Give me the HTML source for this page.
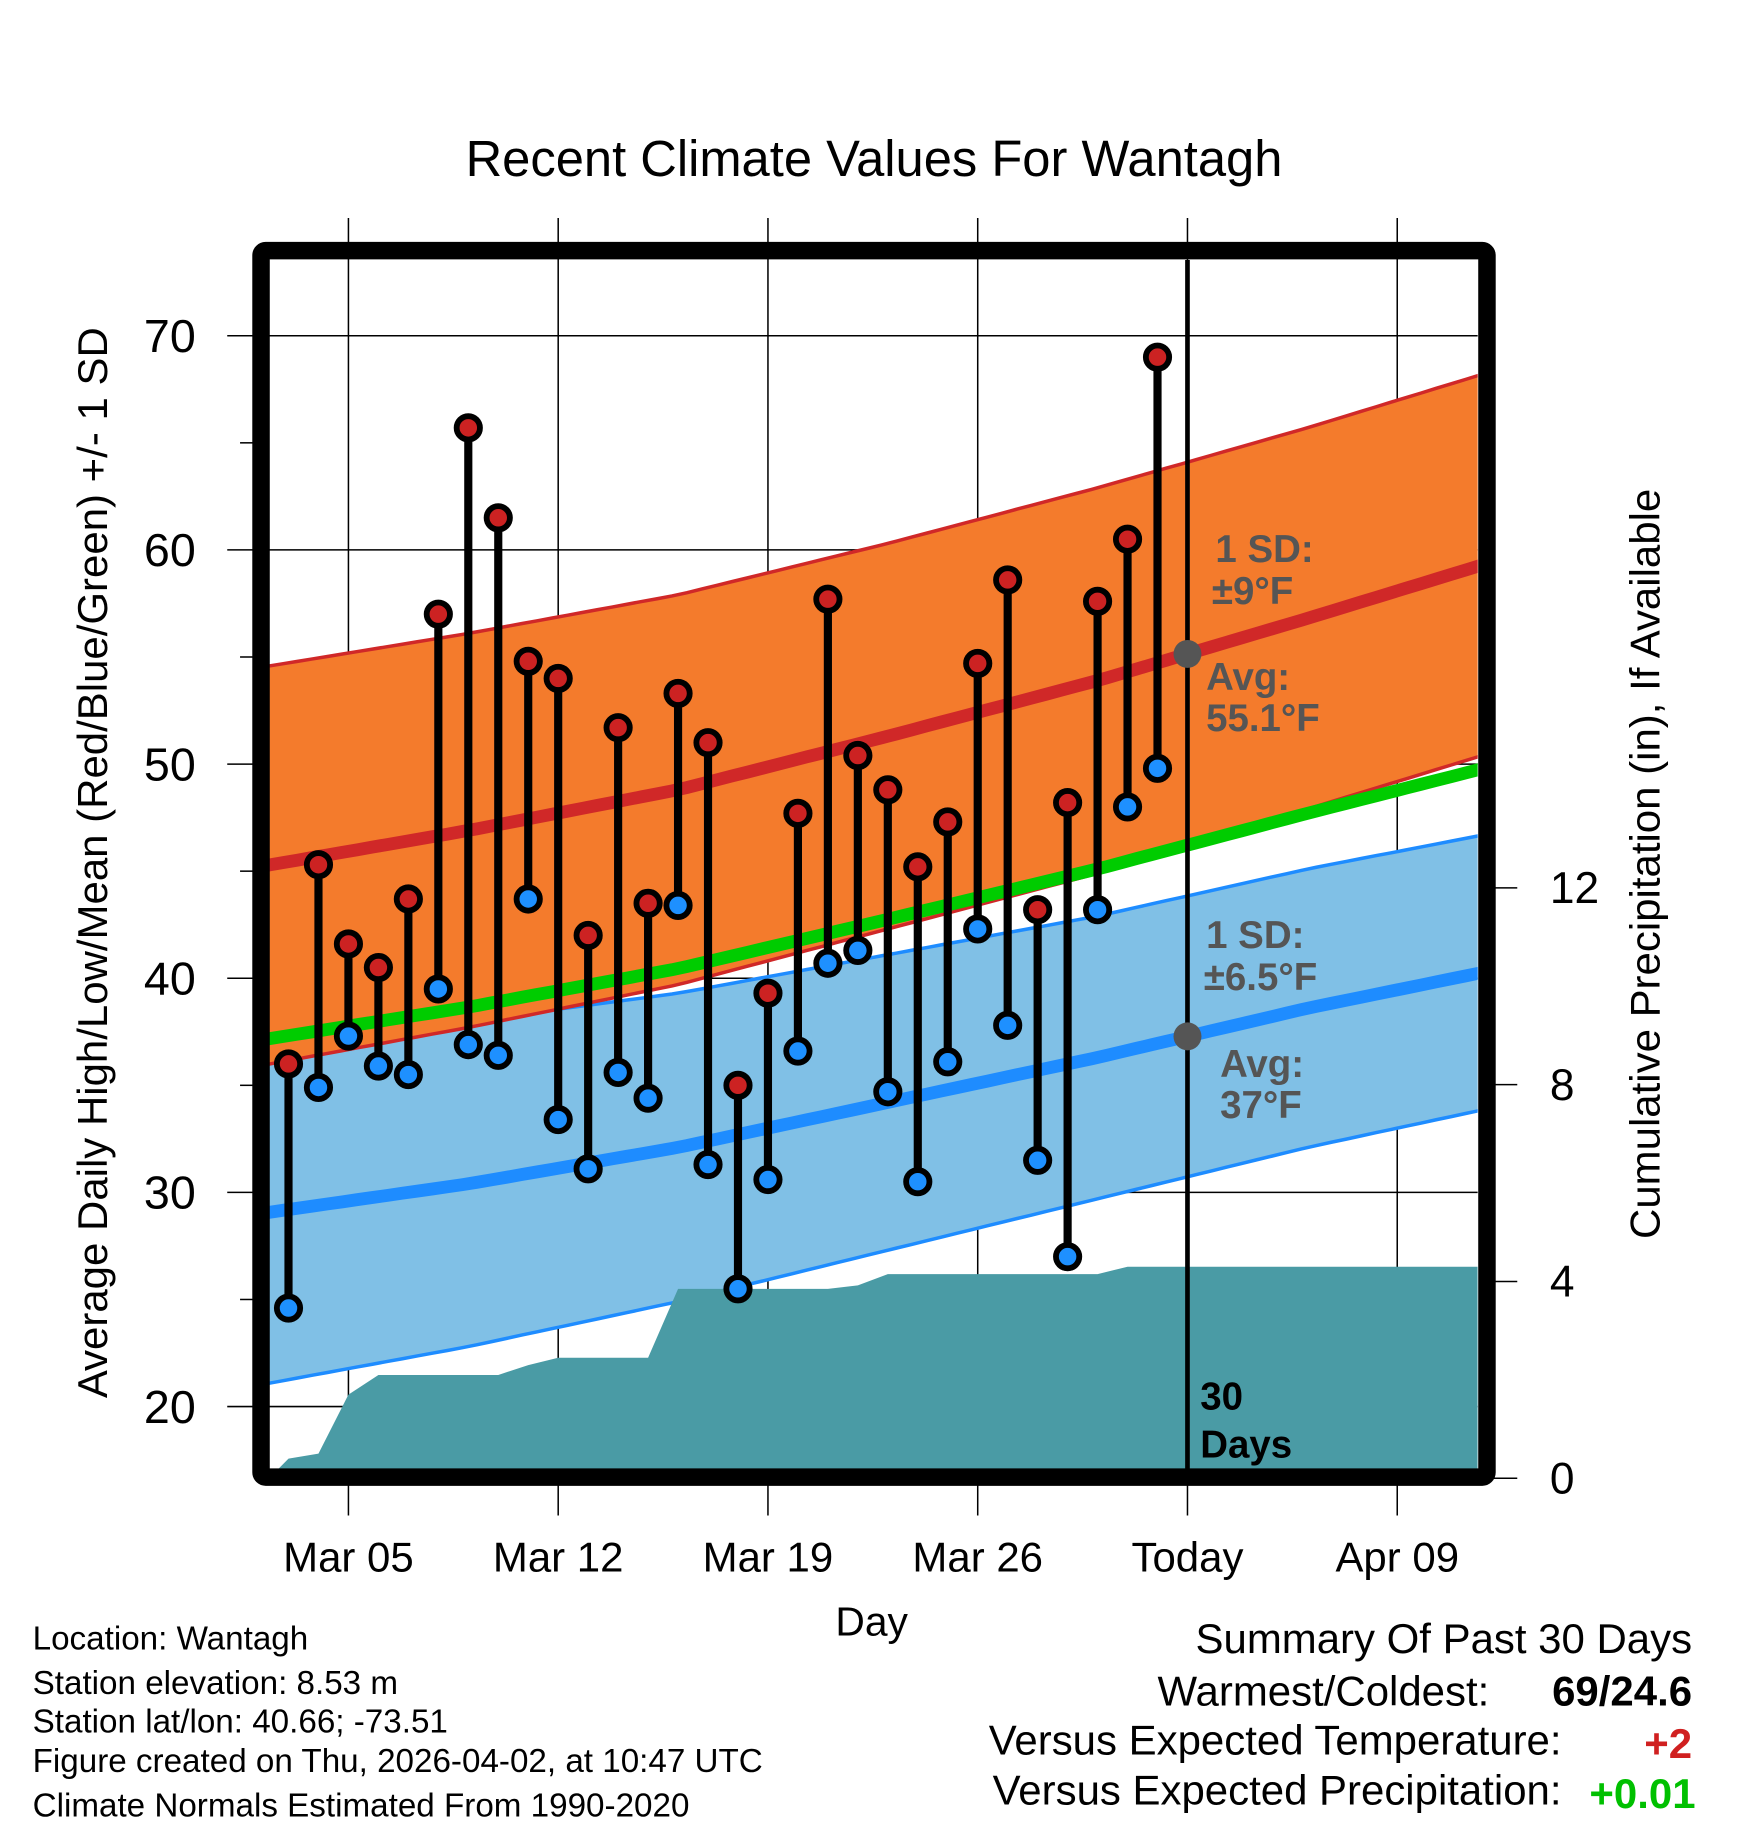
<!DOCTYPE html>
<html><head><meta charset="utf-8"><style>
html,body{margin:0;padding:0;background:#fff}
svg{display:block;font-family:"Liberation Sans",Arial,sans-serif}
</style></head><body>
<svg id="chart" width="1748" height="1828" viewBox="0 0 1500 1568" preserveAspectRatio="none" xmlns="http://www.w3.org/2000/svg">
<defs><clipPath id="plotclip"><rect x="231" y="223" width="1037" height="1037"/></clipPath></defs>
<text x="750" y="151" font-size="43.5" text-anchor="middle">Recent Climate Values For Wantagh</text>
<g id="grid"></g>
<g id="plot" clip-path="url(#plotclip)"></g>
<g id="marks"></g>
<g id="axes"></g>
<rect x="224" y="215" width="1052" height="1052" fill="none" stroke="#000" stroke-width="15" rx="4"/>
<g font-weight="bold" font-size="33" fill="#555">
<text x="1043" y="482">1 SD:</text>
<text x="1040" y="518">±9°F</text>
<text x="1035" y="592">Avg:</text>
<text x="1035" y="627">55.1°F</text>
<text x="1035" y="813">1 SD:</text>
<text x="1033" y="849">±6.5°F</text>
<text x="1047" y="924">Avg:</text>
<text x="1047" y="959">37°F</text>
<text x="1030" y="1209" fill="#000">30</text>
<text x="1030" y="1250" fill="#000">Days</text>
</g>
<text transform="translate(92,740) rotate(-90)" font-size="36" text-anchor="middle">Average Daily High/Low/Mean (Red/Blue/Green) +/- 1 SD</text>
<text transform="translate(1424,741) rotate(-90)" font-size="36" text-anchor="middle">Cumulative Precipitation (in), If Available</text>
<text x="748" y="1403" font-size="35" text-anchor="middle">Day</text>
<g font-size="28.5">
<text x="28" y="1415">Location: Wantagh</text>
<text x="28" y="1453">Station elevation: 8.53 m</text>
<text x="28" y="1486">Station lat/lon: 40.66; -73.51</text>
<text x="28" y="1520">Figure created on Thu, 2026-04-02, at 10:47 UTC</text>
<text x="28" y="1558">Climate Normals Estimated From 1990-2020</text>
</g>
<g font-size="36">
<text x="1452" y="1418" text-anchor="end">Summary Of Past 30 Days</text>
<text x="1278" y="1463" text-anchor="end">Warmest/Coldest:</text>
<text x="1452" y="1463" text-anchor="end" font-weight="bold">69/24.6</text>
<text x="1340" y="1505" text-anchor="end">Versus Expected Temperature:</text>
<text x="1452" y="1508" text-anchor="end" font-weight="bold" fill="#d02020">+2</text>
<text x="1340" y="1548" text-anchor="end">Versus Expected Precipitation:</text>
<text x="1455" y="1551" text-anchor="end" font-weight="bold" fill="#00c000">+0.01</text>
</g>
</svg>
<script>
// Observed data (day 0 = Mar 03)
const highs=[36.0,45.3,41.6,40.5,43.7,57.0,65.7,61.5,54.8,54.0,42.0,51.7,43.5,53.3,51.0,35.0,39.3,47.7,57.7,50.4,48.8,45.2,47.3,54.7,58.6,43.2,48.2,57.6,60.5,69.0];
const lows=[24.6,34.9,37.3,35.9,35.5,39.5,36.9,36.4,43.7,33.4,31.1,35.6,34.4,43.4,31.3,25.5,30.6,36.6,40.7,41.3,34.7,30.5,36.1,42.3,37.8,31.5,27.0,43.2,48.0,49.8];
const precip=[0.4,0.5,1.7,2.1,2.1,2.1,2.1,2.1,2.3,2.45,2.45,2.45,2.45,3.85,3.85,3.85,3.85,3.85,3.85,3.92,4.15,4.15,4.15,4.15,4.15,4.15,4.15,4.15,4.3,4.3];
// Normals at weekly dates (days since Mar 05): Mar2..Apr13
const normDays=[-3,4,11,18,25,32,39];
const normHigh=[45.2,46.9,48.8,51.3,53.9,56.8,59.8];
const normLow=[29.0,30.4,32.1,34.2,36.3,38.6,40.6];
const highSD=[9.3,9.2,9.1,9.0,9.0,8.9,8.9];
const lowSD=[8.0,7.6,7.2,6.9,6.6,6.5,6.4];
const xTickLabels=["Mar 05","Mar 12","Mar 19","Mar 26","Today","Apr 09"];
const yTicks=[20,30,40,50,60,70];
const y2Ticks=[0,4,8,12];

const NS="http://www.w3.org/2000/svg";
const X=d=>299+d*180/7;
const Y=v=>288+(70-v)*18.37;
const Y2=p=>1268-p*42.2;
const firstDay=-2;
function el(tag,attrs,parent){const e=document.createElementNS(NS,tag);for(const k in attrs)e.setAttribute(k,attrs[k]);parent.appendChild(e);return e;}
const grid=document.getElementById('grid'),plot=document.getElementById('plot'),marks=document.getElementById('marks'),axes=document.getElementById('axes');

const D0=-2.7,D1=37.8;
function interp(arr,d){for(let i=0;i<normDays.length-1;i++){if(d<=normDays[i+1]||i==normDays.length-2){const t=(d-normDays[i])/(normDays[i+1]-normDays[i]);return arr[i]+t*(arr[i+1]-arr[i]);}}}
const samples=[];for(let d=D0;d<=D1+0.01;d+=0.5)samples.push(d);
const pts=f=>samples.map(d=>X(d).toFixed(1)+','+Y(f(d)).toFixed(1));
function band(fu,fl,fill,edge,name){
  const up=pts(fu),lo=pts(fl).reverse();
  const p=el('polygon',{points:up.concat(lo).join(' '),fill:fill},plot);
  
  
  const a=el('polyline',{points:up.join(' '),fill:'none',stroke:edge,'stroke-width':3},plot);
  
  
  const b=el('polyline',{points:pts(fl).join(' '),fill:'none',stroke:edge,'stroke-width':3},plot);
  
  
}
band(d=>interp(normLow,d)+interp(lowSD,d),d=>interp(normLow,d)-interp(lowSD,d),'#80c0e6','#1e8cff','low-sd-band');
band(d=>interp(normHigh,d)+interp(highSD,d),d=>interp(normHigh,d)-interp(highSD,d),'#f47b2c','#d02828','high-sd-band');

let pp=[[231,Y2(0)]];
precip.forEach((v,i)=>pp.push([X(firstDay+i),Y2(v)]));
pp.push([1268,Y2(precip[precip.length-1])]);pp.push([1268,1270]);pp.push([231,1270]);
const pa=el('polygon',{points:pp.map(p=>p.join(',')).join(' '),fill:'#4a9ba5'},plot);



const mean=d=>(interp(normHigh,d)+interp(normLow,d))/2;
[[d=>interp(normLow,d),'#1e8cff','avg-low-line'],[mean,'#00cc00','avg-mean-line'],[d=>interp(normHigh,d),'#d02828','avg-high-line']].forEach(([f,c,n])=>{
  const l=el('polyline',{points:pts(f).join(' '),fill:'none',stroke:c,'stroke-width':11},plot);
  
  
});

for(let i=0;i<xTickLabels.length;i++){
  const x=X(i*7);
  const g=el('line',{x1:x,x2:x,y1:187,y2:1300,stroke:'#000','stroke-width':1.3},grid);
  
  
  const t=el('text',{x:x,y:1348,'font-size':36,'text-anchor':'middle'},axes);
  
  
  t.textContent=xTickLabels[i];
}
yTicks.forEach(v=>{
  const g=el('line',{x1:195,x2:1268,y1:Y(v),y2:Y(v),stroke:'#000','stroke-width':1.3},grid);
  
  
  const t=el('text',{x:168,y:Y(v)+14,'font-size':40,'text-anchor':'end'},axes);
  
  
  t.textContent=v;
  if(v<70){const m=el('line',{x1:206,x2:218,y1:Y(v+5),y2:Y(v+5),stroke:'#000','stroke-width':1.3},grid);
  
  }
});
y2Ticks.forEach(v=>{
  const g=el('line',{x1:1282,x2:1302,y1:Y2(v),y2:Y2(v),stroke:'#000','stroke-width':1.3},grid);
  
  
  const t=el('text',{x:1330,y:Y2(v)+13,'font-size':38},axes);
  
  
  t.textContent=v;
});
const tl=el('line',{x1:X(28),x2:X(28),y1:223,y2:1262,stroke:'#000','stroke-width':4},marks);


[[interp(normHigh,28),'today-avg-high-dot'],[interp(normLow,28),'today-avg-low-dot']].forEach(([v,n])=>{
  const c=el('circle',{cx:X(28),cy:Y(v),r:12,fill:'#555'},marks);
  
  
});
highs.forEach((h,i)=>{
  const x=X(firstDay+i);
  const s=el('line',{x1:x,x2:x,y1:Y(h),y2:Y(lows[i]),stroke:'#000','stroke-width':7},marks);
  
  
});
highs.forEach((h,i)=>{
  const x=X(firstDay+i);
  const a=el('circle',{cx:x,cy:Y(h),r:10,fill:'#cc2222',stroke:'#000','stroke-width':5},marks);
  
  
  const b=el('circle',{cx:x,cy:Y(lows[i]),r:10,fill:'#1e90ff',stroke:'#000','stroke-width':5},marks);
  
  
});
</script>
</body></html>
